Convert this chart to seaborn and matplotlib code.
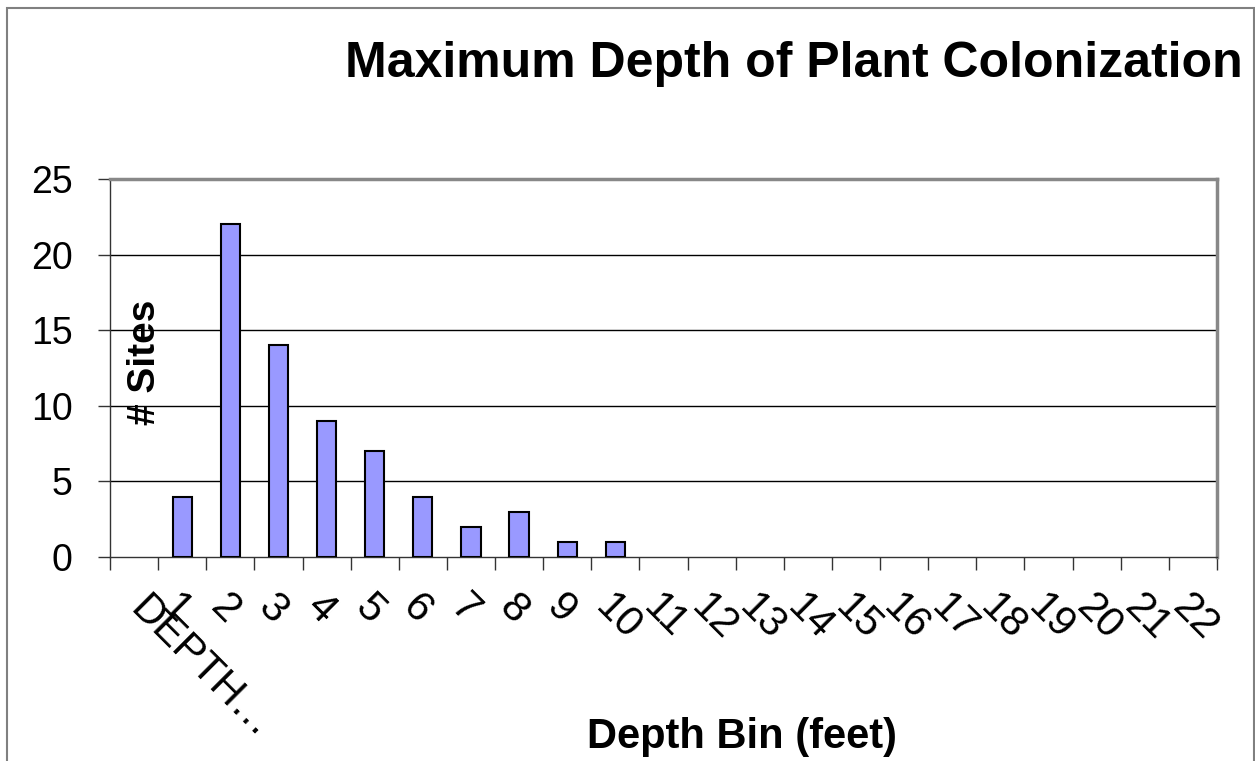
import matplotlib
matplotlib.use("Agg")
import matplotlib.pyplot as plt
import matplotlib.transforms as mtransforms
import seaborn as sns
import pandas as pd
from matplotlib.patches import Rectangle

categories = ["DEPTH…"] + [str(i) for i in range(1, 23)]
sites = [0, 4, 22, 14, 9, 7, 4, 2, 3, 1, 1] + [0] * 12
yticks = [0, 5, 10, 15, 20, 25]

title = "Maximum Depth of Plant Colonization"
xlabel = "Depth Bin (feet)"
ylabel = "# Sites"

sns.set_theme(style="white")
plt.rcParams['font.family'] = ['Liberation Sans', 'DejaVu Sans']
plt.rcParams['text.color'] = 'black'
plt.rcParams['xtick.color'] = 'black'
plt.rcParams['ytick.color'] = 'black'
plt.rcParams['axes.labelcolor'] = 'black'

df = pd.DataFrame({"bin": categories, "sites": sites})

fig = plt.figure(figsize=(12.55, 7.61), dpi=100)
ax = fig.add_axes([110 / 1255, 204 / 761, 1107 / 1255, 378 / 761])

sns.barplot(data=df, x="bin", y="sites", order=categories, color="#9999FF",
            saturation=1, width=0.4, edgecolor="black", linewidth=1.5, ax=ax, zorder=3)
# Excel draws nothing for empty (zero) bins
for p in ax.patches:
    if p.get_height() == 0:
        p.set_visible(False)

ax.set_xlim(-0.5, len(categories) - 0.5)
ax.set_ylim(0, 25)
ax.set_yticks(yticks)
ax.set_yticklabels([str(v) for v in yticks], fontsize=27)
for y in yticks[1:-1]:
    ax.axhline(y, color="black", linewidth=1, zorder=1)

# category labels
ax.set_xticks(range(len(categories)))
ax.set_xticklabels(categories, fontsize=30, rotation=-45, ha="left", va="top",
                   rotation_mode="anchor")
ax.tick_params(axis="x", which="major", length=0, pad=22)
ax.set_xticks([i - 0.5 for i in range(len(categories) + 1)], minor=True)
ax.tick_params(axis="x", which="minor", length=9, width=1, color="#333333", direction="out", bottom=True)
ax.tick_params(axis="y", length=9, width=1, color="#333333", direction="out", left=True, pad=18)

# shift the long first label so its top corner sits at the slot centre
first = ax.get_xticklabels()[0]
off = mtransforms.ScaledTranslation(16 / 100, -2 / 100, fig.dpi_scale_trans)
first.set_transform(first.get_transform() + off)

for side in ["top", "right"]:
    ax.spines[side].set_color("#888888")
    ax.spines[side].set_linewidth(2.5)
for side in ["left", "bottom"]:
    ax.spines[side].set_color("#333333")
    ax.spines[side].set_linewidth(1)

ax.set_xlabel("")
ax.set_ylabel("")

fig.text(1243 / 1255, 1 - 64 / 761, title, ha="right", va="center",
         fontsize=36, fontweight="bold", color="black")
fig.text(742 / 1255, 1 - 737 / 761, xlabel, ha="center", va="center",
         fontsize=30, fontweight="bold", color="black")
fig.text(145 / 1255, 1 - 362 / 761, ylabel, ha="center", va="center",
         rotation=90, fontsize=28, fontweight="bold", color="black")

# outer chart-area border
fig.patches.append(Rectangle((7 / 1255, -0.1), (1254 - 7) / 1255, 1.1 - 7.5 / 761,
                             transform=fig.transFigure, fill=False,
                             edgecolor="#808080", linewidth=1.5))

fig.savefig("out.png", dpi=100)
